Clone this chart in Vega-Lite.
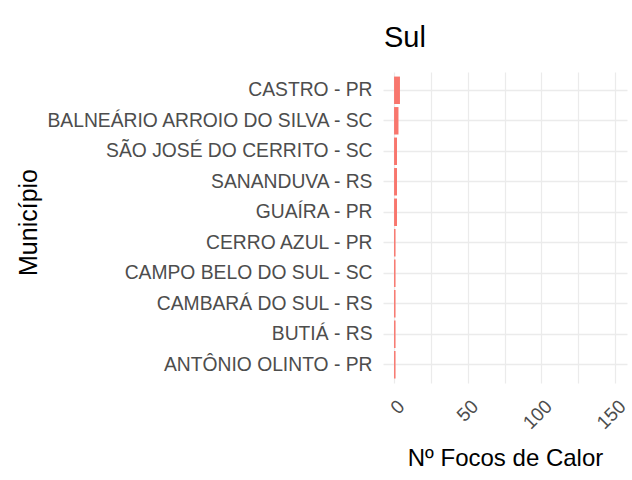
{
  "$schema": "https://vega.github.io/schema/vega-lite/v6.json",
  "width": 244,
  "height": 311,
  "autosize": {"type": "none"},
  "padding": {"left": 383, "top": 72, "right": 5, "bottom": 97},
  "background": "white",
  "title": {
    "text": "Sul",
    "anchor": "start",
    "frame": "group",
    "dx": 1,
    "fontSize": 29,
    "font": "Liberation Sans",
    "fontWeight": "normal",
    "color": "black",
    "offset": 19
  },
  "data": {
    "values": [
      {"municipio": "CASTRO - PR", "focos": 4},
      {"municipio": "BALNEÁRIO ARROIO DO SILVA - SC", "focos": 3},
      {"municipio": "SÃO JOSÉ DO CERRITO - SC", "focos": 2},
      {"municipio": "SANANDUVA - RS", "focos": 2},
      {"municipio": "GUAÍRA - PR", "focos": 2},
      {"municipio": "CERRO AZUL - PR", "focos": 1},
      {"municipio": "CAMPO BELO DO SUL - SC", "focos": 1},
      {"municipio": "CAMBARÁ DO SUL - RS", "focos": 1},
      {"municipio": "BUTIÁ - RS", "focos": 1},
      {"municipio": "ANTÔNIO OLINTO - PR", "focos": 1}
    ]
  },
  "mark": {"type": "bar", "color": "#F8766D"},
  "encoding": {
    "y": {
      "field": "municipio",
      "type": "nominal",
      "sort": null,
      "scale": {"paddingInner": 0.1, "paddingOuter": 0.15},
      "axis": {
        "title": "Município",
        "titleFont": "Liberation Sans",
        "titleFontSize": 25,
        "titleFontWeight": "normal",
        "titleColor": "black",
        "titleX": -355,
        "titleY": 150,
        "titleAngle": -90,
        "titleAlign": "center",
        "titleBaseline": "middle",
        "labelFont": "Liberation Sans",
        "labelFontSize": 19.3,
        "labelColor": "#4D4D4D",
        "labelPadding": 11,
        "labelLimit": 0,
        "ticks": false,
        "domain": false,
        "grid": true,
        "bandPosition": 0.5,
        "gridColor": "#EBEBEB",
        "gridWidth": 1.3
      }
    },
    "x": {
      "field": "focos",
      "type": "quantitative",
      "scale": {"domain": [-7.5, 158], "nice": false, "zero": false},
      "axis": {
        "title": "Nº Focos de Calor",
        "titleFont": "Liberation Sans",
        "titleFontSize": 24,
        "titleFontWeight": "normal",
        "titleColor": "black",
        "titlePadding": 14,
        "values": [0, 25, 50, 75, 100, 125, 150],
        "labelExpr": "datum.value % 50 === 0 ? datum.label : ''",
        "labelFont": "Liberation Sans",
        "labelFontSize": 19,
        "labelColor": "#4D4D4D",
        "labelAngle": -45,
        "labelAlign": "right",
        "labelBaseline": "middle",
        "labelOffset": 7,
        "labelPadding": 20,
        "ticks": false,
        "domain": false,
        "grid": true,
        "gridColor": "#EBEBEB",
        "gridWidth": 1.2
      }
    }
  },
  "config": {"view": {"stroke": null}}
}
